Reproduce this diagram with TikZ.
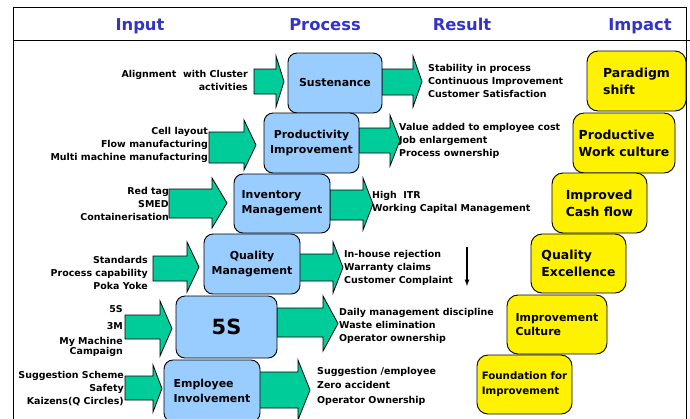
\documentclass[tikz,border=0pt]{standalone}
\usepackage{fontspec}
\setmainfont{DejaVu Sans}
\usepackage{tikz}
\definecolor{procblue}{RGB}{153,204,255}
\definecolor{flowgreen}{RGB}{0,204,153}
\definecolor{headblue}{RGB}{51,51,204}

\begin{document}
\begin{tikzpicture}[x=1bp,y=-1bp,
  colhead/.style={text=headblue,anchor=base,inner sep=0,font=\bfseries\fontsize{16.4}{18}\selectfont},
  inlist/.style={anchor=east,align=right,inner sep=0,font=\bfseries\fontsize{9.5}{13}\selectfont},
  outlist/.style={anchor=west,align=left,inner sep=0,font=\bfseries\fontsize{9.5}{13}\selectfont},
  flow/.style={draw=black,fill=flowgreen,line width=0.8bp,line join=miter},
  procbox/.style={draw,fill=procblue,rounded corners=9bp,line width=0.9bp,inner sep=0,align=center,font=\bfseries\fontsize{11}{15}\selectfont},
  impactbox/.style={draw,fill=yellow,rounded corners=11bp,line width=0.9bp,inner sep=0,align=left,font=\bfseries\fontsize{12.5}{17}\selectfont}]
\useasboundingbox (0,0) rectangle (690,418);
\clip (0,0) rectangle (690,418);
\draw[line width=0.8bp] (13,420) -- (13,7) -- (686,7) -- (686,420);
\draw[line width=0.8bp] (13,40) -- (690,40);
\node[colhead] (input) at (140,30) {Input};
\node[colhead] (process) at (325,30) {Process};
\node[colhead] (result) at (462,30) {Result};
\node[colhead] (impact) at (640,30) {Impact};
\foreach \xa/\xb/\xc/\sa/\sb/\ha/\hb in {
  254/276/284/69/94/56/107, 209/244/256/132/163/120/170,
  169/212/227/189/218/178/228, 153/187/199/256/281/242/292,
  125/160/172/315/339/301/356, 125/153/162/376/400/365/412,
  382/413/422/69/95/56/107, 359/390/400/128/153/115/166,
  330/363/373/190/220/178/230, 299/333/343/254/281/242/293,
  277/323/338/308/337/296/351, 259/298/310/372/408/360/420}
  \draw[flow] (\xa,\sa) -- (\xb,\sa) -- (\xb,\ha) -- (\xc,{(\ha+\hb)/2}) -- (\xb,\hb) -- (\xb,\sb) -- (\xa,\sb) -- cycle;
\node[procbox,minimum width=94bp,minimum height=60bp] (sust) at (335,83) {Sustenance};
\node[procbox,minimum width=95bp,minimum height=60bp] (prod) at (311.5,143) {Productivity\\Improvement};
\node[procbox,minimum width=96bp,minimum height=59bp,align=left] (inv) at (282,203.5) {Inventory\\Management};
\node[procbox,minimum width=96bp,minimum height=60bp] (qual) at (252,264) {Quality\\Management};
\node[procbox,minimum width=101bp,minimum height=62bp,font=\bfseries\fontsize{21}{24}\selectfont] (fives) at (226.5,327) {5S};
\node[procbox,minimum width=96bp,minimum height=62bp,align=left] (empl) at (212,391) {Employee\\Involvement};
\node[inlist] (insust) at (248,80.5) {Alignment\ \ with Cluster\\activities};
\node[inlist] (inprod) at (208,145) {Cell layout\\Flow manufacturing\\Multi machine manufacturing};
\node[inlist] (ininv) at (169,204) {Red tag\\SMED\\Containerisation};
\node[inlist] (inqual) at (148,273) {Standards\\Process capability\\Poka Yoke};
\node[inlist] (infivea) at (123,309) {5S};
\node[inlist] (infiveb) at (123,326) {3M};
\node[inlist,font=\bfseries\fontsize{9.5}{9}\selectfont] (infivec) at (123,347) {My Machine\\Campaign};
\node[inlist] (inempl) at (124,389) {Suggestion Scheme\\Safety\\Kaizens(Q Circles)};
\node[outlist] (outsust) at (428,81) {Stability in process\\Continuous Improvement\\Customer Satisfaction};
\node[outlist] (outprod) at (399,141) {Value added to employee cost\\Job enlargement\\Process ownership};
\node[outlist] (outinv) at (372,202) {High\ \ ITR\\Working Capital Management};
\node[outlist] (outqual) at (344,268) {In-house rejection\\Warranty claims\\Customer Complaint};
\node[outlist] (outfive) at (339,326) {Daily management discipline\\Waste elimination\\Operator ownership};
\node[outlist,font=\bfseries\fontsize{9.5}{14.5}\selectfont] (outempl) at (317,386) {Suggestion /employee\\Zero accident\\Operator Ownership};
\coordinate (trendtop) at (467,247);
\coordinate (trendbot) at (467,286);
\draw[-latex,line width=1.2bp] (trendtop) -- (trendbot);
\node[impactbox,minimum width=99bp,minimum height=60bp] (paradigm) at (636.5,81) {Paradigm\\shift};
\node[impactbox,minimum width=102bp,minimum height=60bp] (workcult) at (624,143) {Productive\\Work culture};
\node[impactbox,minimum width=95bp,minimum height=60bp] (cashflow) at (599.5,203) {Improved\\Cash flow};
\node[impactbox,minimum width=95bp,minimum height=59bp] (excel) at (578.5,263.5) {Quality\\Excellence};
\node[impactbox,minimum width=100bp,minimum height=59bp,font=\bfseries\fontsize{11}{14}\selectfont] (impcult) at (557,324.5) {Improvement\\Culture};
\node[impactbox,minimum width=95bp,minimum height=59bp,font=\bfseries\fontsize{10.3}{15}\selectfont] (found) at (524.5,384.5) {Foundation for\\Improvement};
\end{tikzpicture}
\end{document}
